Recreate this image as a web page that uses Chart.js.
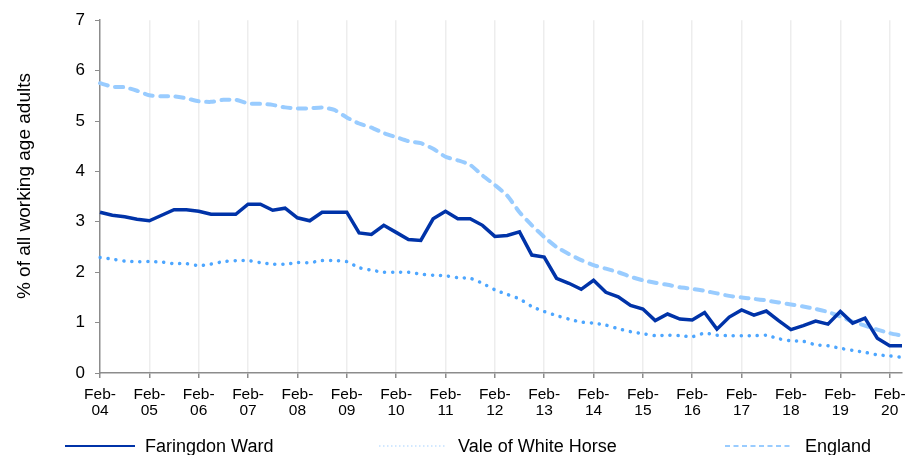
<!DOCTYPE html>
<html>
<head>
<meta charset="utf-8">
<script src="https://cdn.jsdelivr.net/npm/chart.js@4"></script>
<style>
  html, body { margin: 0; padding: 0; background: #fff; }
  #wrap { width: 911px; height: 455px; position: relative; }
</style>
</head>
<body>
<div id="wrap"><canvas id="chart"></canvas></div>
<script>
// Quarterly categories, Feb-04 .. May-20
const years = ['04', '05', '06', '07', '08', '09', '10', '11', '12', '13', '14', '15', '16', '17', '18', '19', '20'];
const months = ['Feb', 'May', 'Aug', 'Nov'];
const quarters = [];
years.forEach(y => months.forEach(m => quarters.push(m + '-' + y)));
quarters.length = 66;

const yTicks = [0, 1, 2, 3, 4, 5, 6, 7];

// % of all working age adults
const faringdon = [
  3.19, 3.13, 3.10, 3.05, 3.02, 3.13, 3.24, 3.24, 3.21, 3.15,
  3.15, 3.15, 3.35, 3.35, 3.23, 3.27, 3.08, 3.02, 3.19, 3.19,
  3.19, 2.78, 2.75, 2.93, 2.79, 2.65, 2.63, 3.06, 3.21, 3.06,
  3.06, 2.93, 2.71, 2.73, 2.80, 2.34, 2.30, 1.88, 1.78, 1.66,
  1.84, 1.60, 1.51, 1.34, 1.27, 1.04, 1.17, 1.07, 1.05, 1.20,
  0.87, 1.11, 1.25, 1.15, 1.23, 1.04, 0.86, 0.94, 1.03, 0.97,
  1.22, 0.99, 1.09, 0.69, 0.54, 0.54
];
const valeOfWhiteHorse = [
  2.29, 2.26, 2.22, 2.21, 2.21, 2.20, 2.17, 2.17, 2.13, 2.16,
  2.21, 2.23, 2.23, 2.19, 2.16, 2.16, 2.19, 2.19, 2.23, 2.23,
  2.21, 2.09, 2.04, 2.00, 2.00, 2.00, 1.96, 1.94, 1.93, 1.89,
  1.88, 1.78, 1.65, 1.56, 1.47, 1.32, 1.22, 1.14, 1.07, 1.01,
  0.99, 0.95, 0.88, 0.82, 0.78, 0.74, 0.75, 0.74, 0.72, 0.79,
  0.75, 0.74, 0.74, 0.74, 0.75, 0.68, 0.64, 0.63, 0.56, 0.54,
  0.49, 0.45, 0.41, 0.36, 0.34, 0.31
];
const england = [
  5.75, 5.68, 5.67, 5.60, 5.51, 5.49, 5.49, 5.45, 5.39, 5.38,
  5.42, 5.42, 5.35, 5.34, 5.32, 5.27, 5.25, 5.25, 5.27, 5.22,
  5.07, 4.95, 4.87, 4.76, 4.68, 4.60, 4.56, 4.45, 4.29, 4.22,
  4.13, 3.92, 3.73, 3.52, 3.19, 2.93, 2.70, 2.50, 2.36, 2.24,
  2.14, 2.07, 2.00, 1.91, 1.84, 1.79, 1.75, 1.70, 1.67, 1.63,
  1.58, 1.53, 1.50, 1.47, 1.44, 1.40, 1.36, 1.32, 1.27, 1.21,
  1.12, 1.02, 0.94, 0.86, 0.79, 0.74
];

const FONT = '"Liberation Sans", Arial, sans-serif';
Chart.defaults.font.family = FONT;
Chart.defaults.color = '#000';

const AXIS_GREY = '#8c8c8c';
const isYearTick = i => i % 4 === 0;

// Legend drawn by hand so the spacing matches the original
const bottomLegend = {
  id: 'bottomLegend',
  afterDraw(chart) {
    const ctx = chart.ctx;
    const y = 446;
    const items = [
      { x0: 65, x1: 135, tx: 145, ds: 0, width: 2, dash: [], color: '#0033a8' },
      { x0: 379, x1: 446, tx: 458, ds: 1, width: 1.5, dash: [1.5, 2.5], color: '#c4e1ff' },
      { x0: 725, x1: 793, tx: 805, ds: 2, width: 2, dash: [5, 3.5], color: '#99ccff' }
    ];
    ctx.save();
    items.forEach(it => {
      ctx.beginPath();
      ctx.strokeStyle = it.color;
      ctx.lineWidth = it.width;
      ctx.lineCap = 'butt';
      ctx.setLineDash(it.dash);
      ctx.moveTo(it.x0, y);
      ctx.lineTo(it.x1, y);
      ctx.stroke();
      ctx.setLineDash([]);
      ctx.fillStyle = '#000';
      ctx.font = '18px ' + FONT;
      ctx.textBaseline = 'middle';
      ctx.textAlign = 'left';
      ctx.fillText(chart.data.datasets[it.ds].label, it.tx, y + 1);
    });
    ctx.restore();
  }
};

new Chart(document.getElementById('chart'), {
  type: 'line',
  data: {
    labels: quarters,
    datasets: [
      {
        label: 'Faringdon Ward',
        data: faringdon,
        borderColor: '#0033a8',
        borderWidth: 3.5,
        pointRadius: 0,
        tension: 0,
        fill: false,
        order: 0
      },
      {
        label: 'Vale of White Horse',
        data: valeOfWhiteHorse,
        borderColor: '#4da6ff',
        borderWidth: 3.5,
        borderDash: [0.1, 7.9],
        borderCapStyle: 'round',
        pointRadius: 0,
        tension: 0.2,
        fill: false,
        order: 1
      },
      {
        label: 'England',
        data: england,
        borderColor: '#99ccff',
        borderWidth: 4,
        borderDash: [8, 7.5],
        borderCapStyle: 'round',
        pointRadius: 0,
        tension: 0.2,
        fill: false,
        order: 2
      }
    ]
  },
  options: {
    responsive: true,
    maintainAspectRatio: false,
    animation: false,
    layout: {
      padding: { left: 0, top: 19, right: 4, bottom: 35 }
    },
    plugins: {
      legend: { display: false },
      tooltip: { enabled: false }
    },
    scales: {
      x: {
        offset: false,
        afterFit: s => { s.height = 47; },
        border: { display: true, color: AXIS_GREY, width: 1.5 },
        grid: {
          drawOnChartArea: true,
          drawTicks: true,
          tickLength: 5,
          lineWidth: 1.5,
          color: c => (c.index > 0 && isYearTick(c.index)) ? '#ededed' : 'rgba(0,0,0,0)',
          tickColor: c => isYearTick(c.index) ? AXIS_GREY : 'rgba(0,0,0,0)'
        },
        ticks: {
          autoSkip: false,
          maxRotation: 0,
          minRotation: 0,
          padding: 9,
          font: { size: 15.5, lineHeight: 1.0 },
          color: '#000',
          callback: function (value, index) {
            if (!isYearTick(index)) return '';
            const parts = quarters[index].split('-');
            return [parts[0] + '-', parts[1]];
          }
        }
      },
      y: {
        min: yTicks[0],
        max: yTicks[yTicks.length - 1],
        afterFit: s => { s.width = 100; },
        afterBuildTicks: s => { s.ticks = yTicks.map(v => ({ value: v })); },
        border: { display: true, color: AXIS_GREY, width: 1.5 },
        grid: {
          drawOnChartArea: false,
          drawTicks: true,
          tickLength: 5,
          tickColor: AXIS_GREY
        },
        ticks: {
          padding: 10,
          font: { size: 17 },
          color: '#000'
        },
        title: {
          display: true,
          text: '    % of all working age adults',
          font: { size: 19 },
          color: '#000',
          padding: { top: 13, bottom: 0 }
        }
      }
    }
  },
  plugins: [bottomLegend]
});
</script>
</body>
</html>
